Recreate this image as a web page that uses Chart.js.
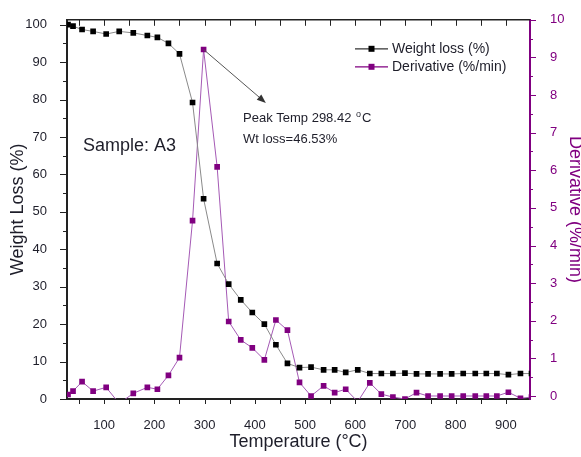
<!DOCTYPE html>
<html>
<head>
<meta charset="utf-8">
<script src="https://cdn.jsdelivr.net/npm/chart.js"></script>
<style>
  body { margin: 0; background: #fff; }
  #wrap { width: 581px; height: 457px; }
</style>
</head>
<body>
<div id="wrap"><canvas id="tgaChart" width="581" height="457"></canvas></div>
<script>
// DATA
const temperatures = [28, 38, 56, 78, 104, 130, 158, 186, 206, 228, 250, 276, 298, 325, 348, 372, 395, 419, 442, 465,
  489, 512, 537, 559, 581, 605, 629, 652, 675, 699, 722, 745, 769, 792, 815, 839, 861, 882, 905, 929, 951];
const weightLoss = [100, 99.6, 98.7, 98.2, 97.5, 98.2, 97.8, 97.1, 96.6, 95.0, 92.2, 79.2, 53.5, 36.2, 30.7, 26.5, 23.1, 20.0, 14.5, 9.5,
  8.4, 8.5, 7.8, 7.8, 7.1, 7.8, 6.8, 6.8, 6.8, 6.9, 6.7, 6.7, 6.7, 6.7, 6.8, 6.8, 6.8, 6.8, 6.5, 6.8, 6.8];
const derivative = [0.04, 0.13, 0.38, 0.13, 0.23, -0.2, 0.07, 0.23, 0.18, 0.55, 1.02, 4.66, 9.21, 6.09, 1.98, 1.49, 1.28, 0.96, 2.02, 1.75,
  0.36, 0.0, 0.27, 0.09, 0.18, -0.15, 0.35, 0.05, -0.03, -0.08, 0.09, 0, 0, 0, 0, 0, 0, 0, 0.1, -0.06, -0.03];

const xTickValues = [100, 200, 300, 400, 500, 600, 700, 800, 900];
const weightTickValues = [0, 10, 20, 30, 40, 50, 60, 70, 80, 90, 100];
const derivTickValues = [0, 1, 2, 3, 4, 5, 6, 7, 8, 9, 10];

const seriesLabels = ["Weight loss (%)", "Derivative (%/min)"];

const FONT = "'Liberation Sans', Arial, sans-serif";
const INK = "#1e1e2a";
const PURPLE = "#800080";

Chart.defaults.font.family = FONT;
Chart.defaults.color = INK;

const canvas = document.getElementById("tgaChart");
const ctx = canvas.getContext("2d");

const toPoints = (ys) => temperatures.map((t, i) => ({ x: t, y: ys[i] }));

// TICK MARKS AND TOP FRAME
const frameTicks = {
  id: "frameTicks",
  beforeDatasetsDraw(chart) {
    const { ctx, chartArea: a, scales } = chart;
    const x = scales.x, yl = scales.yWeight, yr = scales.yDeriv;
    ctx.save();
    ctx.lineWidth = 1;
    ctx.strokeStyle = "#222";
    ctx.beginPath();
    for (let t = 50; t < x.max; t += 50) {
      const px = Math.round(x.getPixelForValue(t)) + 0.5;
      ctx.moveTo(px, a.bottom);
      ctx.lineTo(px, a.bottom + 5);
      ctx.moveTo(px, a.top);
      ctx.lineTo(px, a.top + 6);
    }
    for (let v = 0; v <= 100; v += 5) {
      const py = Math.round(yl.getPixelForValue(v)) + 0.5;
      ctx.moveTo(a.left, py);
      ctx.lineTo(a.left - (v % 10 === 0 ? 7 : 4), py);
    }
    ctx.stroke();

    ctx.lineWidth = 1.5;
    ctx.beginPath();
    ctx.moveTo(a.left, a.top);
    ctx.lineTo(a.right, a.top);
    ctx.stroke();

    ctx.lineWidth = 1;
    ctx.strokeStyle = PURPLE;
    ctx.beginPath();
    for (let v = 0; v <= 10; v += 0.5) {
      const py = Math.round(yr.getPixelForValue(v)) + 0.5;
      ctx.moveTo(a.right, py);
      ctx.lineTo(a.right + (v % 1 === 0 ? 6 : 3), py);
    }
    ctx.stroke();
    ctx.restore();
  },
};

// LEGEND, SAMPLE NAME, PEAK ARROW
const notes = {
  id: "notes",
  afterDatasetsDraw(chart) {
    const { ctx, chartArea: a, scales } = chart;
    const x = scales.x, yl = scales.yWeight;
    ctx.save();

    // sample name
    ctx.fillStyle = INK;
    ctx.font = "18px " + FONT;
    ctx.textBaseline = "middle";
    ctx.fillText("Sample: A3", x.getPixelForValue(58), yl.getPixelForValue(67.7));

    // arrow from the derivative peak
    const peakIndex = derivative.indexOf(Math.max(...derivative));
    const peak = chart.getDatasetMeta(1).data[peakIndex];
    const ex = x.getPixelForValue(422), ey = yl.getPixelForValue(79.1);
    const ang = Math.atan2(ey - peak.y, ex - peak.x);
    ctx.strokeStyle = "#555";
    ctx.lineWidth = 1;
    ctx.beginPath();
    ctx.moveTo(peak.x, peak.y);
    ctx.lineTo(ex - 6 * Math.cos(ang), ey - 6 * Math.sin(ang));
    ctx.stroke();
    ctx.fillStyle = "#333";
    ctx.beginPath();
    ctx.moveTo(ex, ey);
    ctx.lineTo(ex - 9 * Math.cos(ang) + 3.5 * Math.sin(ang), ey - 9 * Math.sin(ang) - 3.5 * Math.cos(ang));
    ctx.lineTo(ex - 9 * Math.cos(ang) - 3.5 * Math.sin(ang), ey - 9 * Math.sin(ang) + 3.5 * Math.cos(ang));
    ctx.closePath();
    ctx.fill();

    // peak text
    ctx.fillStyle = INK;
    ctx.textBaseline = "alphabetic";
    ctx.font = "13px " + FONT;
    const tx = x.getPixelForValue(376.5);
    const ty = yl.getPixelForValue(73.9);
    const main = "Peak Temp " + temperatures[peakIndex] + ".42 ";
    ctx.fillText(main, tx, ty);
    let cx = tx + ctx.measureText(main).width + 1;
    ctx.font = "9px " + FONT;
    ctx.fillText("o", cx, ty - 5);
    cx += ctx.measureText("o").width + 1;
    ctx.font = "13px " + FONT;
    ctx.fillText("C", cx, ty);
    ctx.fillText("Wt loss=46.53%", tx, yl.getPixelForValue(68.5));

    // legend
    const rows = [
      { label: seriesLabels[0], line: "#333", mark: "#000", y: a.top + 29 },
      { label: seriesLabels[1], line: PURPLE, mark: PURPLE, y: a.top + 47 },
    ];
    ctx.font = "14px " + FONT;
    ctx.textBaseline = "middle";
    rows.forEach((r) => {
      const x0 = a.right - 175, x1 = a.right - 142, mx = (x0 + x1) / 2;
      ctx.strokeStyle = r.line;
      ctx.lineWidth = 1.2;
      ctx.beginPath();
      ctx.moveTo(x0, r.y);
      ctx.lineTo(x1, r.y);
      ctx.stroke();
      ctx.fillStyle = r.mark;
      ctx.fillRect(mx - 3, r.y - 3, 6, 6);
      ctx.fillStyle = INK;
      ctx.fillText(r.label, a.right - 138, r.y);
    });
    ctx.restore();
  },
};

const myChart = new Chart(ctx, {
  type: "line",
  data: {
    datasets: [
      {
        label: seriesLabels[0],
        data: toPoints(weightLoss),
        yAxisID: "yWeight",
        borderColor: "#8a8a8a",
        borderWidth: 1,
        pointStyle: "rect",
        pointRadius: 4,
        pointBackgroundColor: "#000",
        pointBorderWidth: 0,
        tension: 0,
      },
      {
        label: seriesLabels[1],
        data: toPoints(derivative),
        yAxisID: "yDeriv",
        borderColor: "#a55ab5",
        borderWidth: 1,
        pointStyle: "rect",
        pointRadius: 4,
        pointBackgroundColor: PURPLE,
        pointBorderWidth: 0,
        tension: 0,
      },
    ],
  },
  options: {
    responsive: false,
    animation: false,
    layout: { padding: { top: 16, left: 0, right: 0, bottom: 0 } },
    plugins: {
      legend: { display: false },
      tooltip: { enabled: false },
    },
    scales: {
      x: {
        type: "linear",
        min: 26,
        max: 948,
        afterBuildTicks: (axis) => { axis.ticks = xTickValues.map((v) => ({ value: v })); },
        afterFit: (axis) => { axis.height = 58; },
        grid: { display: false },
        border: { display: true, color: "#222", width: 2 },
        ticks: { padding: 11, font: { size: 13 }, color: INK },
        title: { display: true, text: "Temperature (°C)", font: { size: 18 }, color: INK, padding: { top: 0, bottom: 4 } },
      },
      yWeight: {
        position: "left",
        min: 0,
        max: 101.3,
        afterBuildTicks: (axis) => { axis.ticks = weightTickValues.map((v) => ({ value: v })); },
        afterFit: (axis) => { axis.width = 67; },
        grid: { display: false },
        border: { display: true, color: "#222", width: 2 },
        ticks: { padding: 12, font: { size: 13 }, color: INK },
        title: { display: true, text: "Weight Loss (%)", font: { size: 18 }, color: INK, padding: { top: 7, bottom: 0 } },
      },
      yDeriv: {
        position: "right",
        min: -0.08,
        max: 10,
        afterBuildTicks: (axis) => { axis.ticks = derivTickValues.map((v) => ({ value: v })); },
        afterFit: (axis) => { axis.width = 51; },
        grid: { display: false },
        border: { display: true, color: PURPLE, width: 2 },
        ticks: { padding: 12, font: { size: 13 }, color: PURPLE },
        title: { display: true, text: "Derivative (%/min)", font: { size: 18 }, color: PURPLE, padding: { top: -5, bottom: 0 } },
      },
    },
  },
  plugins: [frameTicks, notes],
});
</script>
</body>
</html>
